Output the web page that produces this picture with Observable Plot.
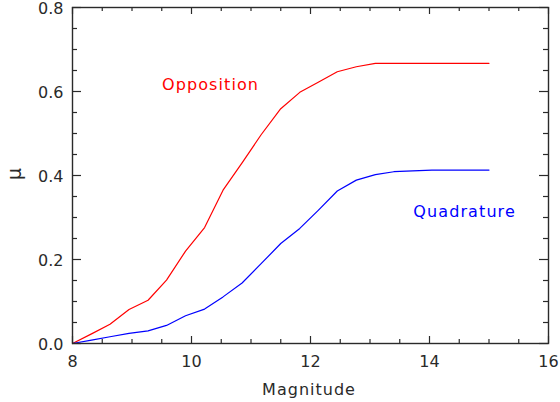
<!DOCTYPE html>
<html>
<head>
<meta charset="utf-8">
<script src="https://cdn.jsdelivr.net/npm/d3@7"></script>
<script src="https://cdn.jsdelivr.net/npm/@observablehq/plot@0.6"></script>
<style>
  html, body { margin: 0; padding: 0; background: #fff; }
  #chart svg { display: block; }
</style>
</head>
<body>
<div id="chart"></div>
<script>
// Data
const magnitude = [8, 8.32, 8.63, 8.95, 9.27, 9.58, 9.9, 10.22, 10.53, 10.85, 11.17, 11.5, 11.82, 12.13, 12.45, 12.77, 13.09, 13.4, 13.72, 14.04, 14.36, 14.68, 15];
const opposition = [0, 0.023, 0.046, 0.081, 0.103, 0.151, 0.22, 0.276, 0.365, 0.43, 0.497, 0.559, 0.598, 0.622, 0.647, 0.659, 0.667, 0.667, 0.667, 0.667, 0.667, 0.667, 0.667];
const quadrature = [0, 0.008, 0.016, 0.024, 0.03, 0.043, 0.066, 0.082, 0.111, 0.144, 0.19, 0.238, 0.274, 0.317, 0.363, 0.389, 0.402, 0.409, 0.411, 0.413, 0.413, 0.413, 0.413];

const xMajor = [8, 10, 12, 14, 16];
const xMinor = [8.5, 9, 9.5, 10.5, 11, 11.5, 12.5, 13, 13.5, 14.5, 15, 15.5];
const yMajor = [0, 0.2, 0.4, 0.6, 0.8];
const yMinor = [0.05, 0.1, 0.15, 0.25, 0.3, 0.35, 0.45, 0.5, 0.55, 0.65, 0.7, 0.75];

const seriesLabels = [
  {name: "Opposition", x: 10.32, y: 0.615, color: "#ff0000"},
  {name: "Quadrature", x: 14.59, y: 0.313, color: "#0000ff"}
];

const oppData = magnitude.map((m, i) => ({m, v: opposition[i]}));
const quadData = magnitude.map((m, i) => ({m, v: quadrature[i]}));

const W = 560, H = 402;
const mL = 72, mR = 12, mT = 7, mB = 59;
const pw = W - mL - mR, ph = H - mT - mB;
const axisColor = "#2a2a2a";
const font = "DejaVu Sans, sans-serif";

const chart = Plot.plot({
  width: W,
  height: H,
  marginLeft: mL,
  marginRight: mR,
  marginTop: mT,
  marginBottom: mB,
  style: {fontFamily: font, background: "#fff"},
  x: {domain: [8, 16], axis: null},
  y: {domain: [0, 0.8], axis: null},
  marks: [
    Plot.line(oppData, {x: "m", y: "v", stroke: "#ff0000", strokeWidth: 1.2}),
    Plot.line(quadData, {x: "m", y: "v", stroke: "#0000ff", strokeWidth: 1.2}),
    // inward ticks: bottom & top
    Plot.ruleX(xMajor, {x: d => d, insetTop: ph - 7, stroke: axisColor, strokeWidth: 1.2}),
    Plot.ruleX(xMajor, {x: d => d, insetBottom: ph - 7, stroke: axisColor, strokeWidth: 1.2}),
    Plot.ruleX(xMinor, {x: d => d, insetTop: ph - 4, stroke: axisColor, strokeWidth: 1.2}),
    Plot.ruleX(xMinor, {x: d => d, insetBottom: ph - 4, stroke: axisColor, strokeWidth: 1.2}),
    // inward ticks: left & right
    Plot.ruleY(yMajor, {y: d => d, insetRight: pw - 9, stroke: axisColor, strokeWidth: 1.2}),
    Plot.ruleY(yMajor, {y: d => d, insetLeft: pw - 9, stroke: axisColor, strokeWidth: 1.2}),
    Plot.ruleY(yMinor, {y: d => d, insetRight: pw - 5, stroke: axisColor, strokeWidth: 1.2}),
    Plot.ruleY(yMinor, {y: d => d, insetLeft: pw - 5, stroke: axisColor, strokeWidth: 1.2}),
    Plot.frame({stroke: axisColor, strokeWidth: 1.4}),
    // tick labels
    Plot.text(xMajor, {x: d => d, frameAnchor: "bottom", dy: 23, text: d => String(d), fontSize: 16, fill: axisColor}),
    Plot.text(yMajor, {y: d => d, frameAnchor: "left", dx: -9, dy: 1, textAnchor: "end", text: d => d3.format(".1f")(d), fontSize: 16, fill: axisColor}),
    // series labels
    Plot.text(seriesLabels, {x: "x", y: "y", text: "name", fill: "color", fontSize: 16, style: "letter-spacing: 1.1px"})
  ]
});

const svg = d3.select(chart);
svg.selectAll("text").filter(function() { return /Opposition|Quadrature/.test(this.textContent); })
  .style("letter-spacing", "1.1px");
// axis titles
svg.append("text")
  .attr("x", mL + pw / 2 - 1)
  .attr("y", 390)
  .attr("text-anchor", "middle")
  .attr("dominant-baseline", "middle")
  .attr("font-family", font)
  .attr("font-size", 16)
  .attr("fill", axisColor)
  .style("letter-spacing", "1px")
  .text("Magnitude");
svg.append("text")
  .attr("transform", "translate(15,174) rotate(-90)")
  .attr("text-anchor", "middle")
  .attr("dominant-baseline", "middle")
  .attr("font-family", font)
  .attr("font-size", 19)
  .attr("fill", axisColor)
  .text("μ");

document.getElementById("chart").appendChild(chart);
</script>
</body>
</html>
